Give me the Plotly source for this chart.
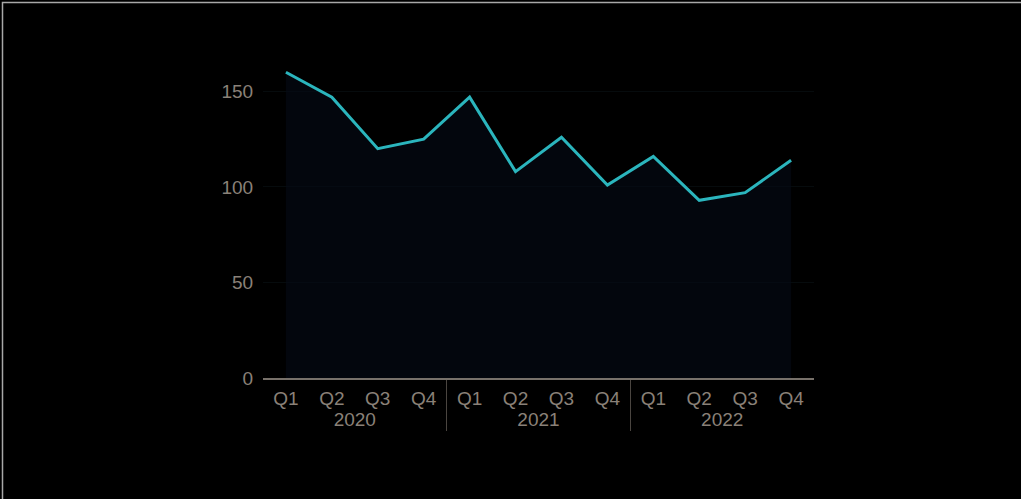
import plotly.graph_objects as go

years = ["2020"] * 4 + ["2021"] * 4 + ["2022"] * 4
quarters = ["Q1", "Q2", "Q3", "Q4"] * 3
values = [160, 147, 120, 125, 147, 108, 126, 101, 116, 93, 97, 114]

text_color = "#8a8178"

L, R, T, B = 263, 207, 57, 121
W, H = 1021, 499
pw, ph = W - L - R, H - T - B

fig = go.Figure()
fig.add_trace(go.Scatter(
    x=[years, quarters],
    y=values,
    mode="lines",
    line=dict(color="#2bb5bd", width=3),
    fill="tozeroy",
    fillcolor="rgba(5,10,22,0.6)",
    hoverinfo="skip",
))

fig.update_layout(
    width=W,
    height=H,
    paper_bgcolor="#000000",
    plot_bgcolor="#000000",
    margin=dict(l=L, r=R, t=T, b=B),
    showlegend=False,
    font=dict(family="Liberation Sans, Arial, sans-serif", size=19, color=text_color),
    xaxis=dict(
        type="multicategory",
        range=[-0.499, 11.499],
        showline=True,
        linecolor="#78716a",
        linewidth=2,
        showgrid=False,
        dividercolor="#4a4540",
        dividerwidth=1,
        tickfont=dict(color=text_color, size=19),
        ticks="",
        ticklabelstandoff=2,
    ),
    yaxis=dict(
        range=[0, 168],
        tickvals=[0, 50, 100, 150],
        showgrid=True,
        gridcolor="rgba(40,70,80,0.16)",
        zeroline=False,
        showline=False,
        tickfont=dict(color=text_color, size=19),
        ticks="outside",
        ticklen=5,
        tickcolor="rgba(0,0,0,0)",
    ),
    shapes=[dict(
        type="rect", xref="paper", yref="paper",
        x0=(2.5 - L) / pw, x1=(W + 20 - L) / pw,
        y0=-(H + 20 - (H - B)) / ph, y1=1 + (T - 2.5) / ph,
        line=dict(color="#a8a8a8", width=1.5),
        fillcolor="rgba(0,0,0,0)",
        layer="above",
    )],
)

fig.write_html(
    "out.html",
    config={"displayModeBar": False},
    post_script="document.body.style.margin='0px';document.body.style.background='#000';",
)
